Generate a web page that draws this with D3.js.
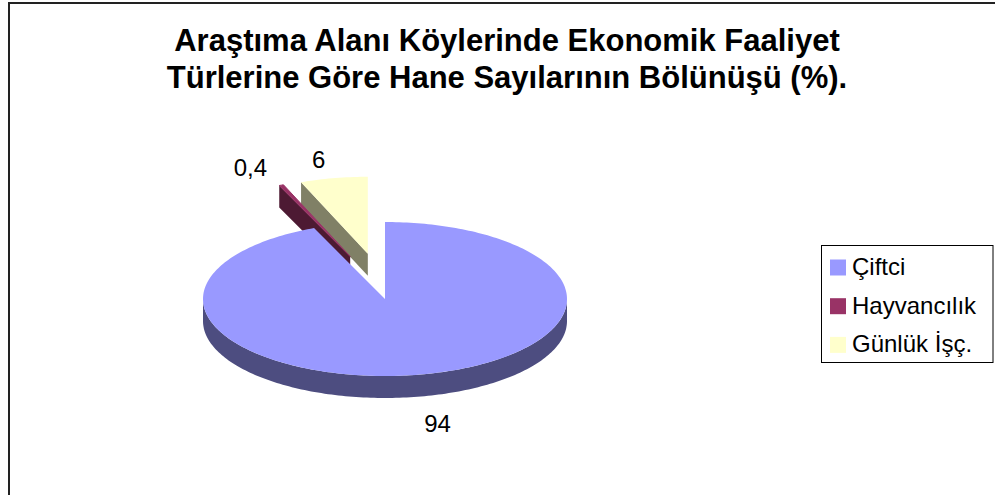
<!DOCTYPE html>
<html>
<head>
<meta charset="utf-8">
<script src="https://cdn.jsdelivr.net/npm/d3@7"></script>
<style>
  html, body { margin: 0; padding: 0; background: #fff; }
  svg { display: block; }
  text { font-family: "Liberation Sans", Arial, sans-serif; }
</style>
</head>
<body>
<svg id="chart" width="995" height="495"></svg>
<script>
// ---- data ----
const titleLines = ["Araştıma Alanı Köylerinde Ekonomik Faaliyet", "Türlerine Göre Hane Sayılarının Bölünüşü (%)."];
const categories = ["Çiftci", "Hayvancılık", "Günlük İşç."];
const values = [94, 0.4, 6];
const valueLabels = ["94", "0,4", "6"];
const exploded = [false, true, true];

// ---- styles ----
const topColors = ["#9999FF", "#993366", "#FFFFCC"];
const sideColors = ["#4D4D80", "#4D1A33", "#808066"];

const W = 995, H = 495;
const cx = 385, cy = 299, rx = 182, ry = 77, depth = 22;
const explodeDist = 92, explodeYScale = 0.5;

const svg = d3.select("#chart");

// outer frame (right & bottom edges fall outside the picture)
svg.append("rect").attr("x", 9).attr("y", 3).attr("width", 1000).attr("height", 600)
  .attr("fill", "#fff").attr("stroke", "#222").attr("stroke-width", 2);

// title
svg.append("g").selectAll("text").data(titleLines).join("text")
  .attr("x", 507).attr("y", (d, i) => 51 + i * 37)
  .attr("text-anchor", "middle").attr("font-weight", "bold").attr("font-size", 31)
  .attr("fill", "#000").text(d => d);

const pie = d3.pie().sort(null).startAngle(0).endAngle(2 * Math.PI);
const arcs = pie(values).map((a, i) => {
  const mid = (a.startAngle + a.endAngle) / 2;
  const d = exploded[i] ? explodeDist : 0;
  return {
    ...a, i, mid,
    ax: cx + d * Math.sin(mid),
    ay: cy - d * Math.cos(mid) * explodeYScale
  };
});

const line = d3.line();
const pt = (a, t, k = 1, dz = 0) => [a.ax + rx * k * Math.sin(t), a.ay - ry * k * Math.cos(t) + dz];
const samples = (t0, t1) => {
  const n = Math.max(2, Math.ceil(Math.abs(t1 - t0) / 0.02));
  return d3.range(n + 1).map(j => t0 + (t1 - t0) * j / n);
};

const g = svg.append("g");
const order = arcs.slice().sort((a, b) => a.ay - b.ay);

order.forEach(a => {
  const sg = g.append("g");
  // radial faces
  const faces = [];
  if (Math.sin(a.startAngle) < -1e-6) faces.push(a.startAngle);
  if (Math.sin(a.endAngle) > 1e-6) faces.push(a.endAngle);
  faces.forEach(t => {
    const p = [[a.ax, a.ay], pt(a, t), pt(a, t, 1, depth), [a.ax, a.ay + depth]];
    sg.append("path").attr("d", line(p) + "Z").attr("fill", sideColors[a.i]);
  });
  // outer wall (front-facing part)
  const w0 = Math.max(a.startAngle, Math.PI / 2), w1 = Math.min(a.endAngle, 3 * Math.PI / 2);
  if (w1 > w0) {
    const ts = samples(w0, w1);
    const p = ts.map(t => pt(a, t)).concat(ts.slice().reverse().map(t => pt(a, t, 1, depth)));
    sg.append("path").attr("d", line(p) + "Z").attr("fill", sideColors[a.i]);
  }
  // top face
  const tp = [[a.ax, a.ay]].concat(samples(a.startAngle, a.endAngle).map(t => pt(a, t)));
  sg.append("path").attr("d", line(tp) + "Z").attr("fill", topColors[a.i])
    .attr("stroke", a.i === 1 ? topColors[a.i] : "none").attr("stroke-width", 1);
});

// data labels
svg.append("g").selectAll("text").data(arcs).join("text")
  .attr("x", a => a.ax + rx * 1.45 * Math.sin(a.mid))
  .attr("y", a => a.ay - ry * 1.25 * Math.cos(a.mid) + (Math.cos(a.mid) < 0 ? depth + 8 : 0))
  .attr("dy", "0.36em").attr("text-anchor", "middle").attr("font-size", 24).attr("fill", "#000")
  .text(a => valueLabels[a.i]);

// legend
const lg = svg.append("g");
lg.append("rect").attr("x", 821.5).attr("y", 245.5).attr("width", 171.5).attr("height", 117)
  .attr("fill", "#fff").attr("stroke", "#000").attr("stroke-width", 1);
const items = lg.selectAll("g.item").data(categories).join("g").attr("class", "item")
  .attr("transform", (d, i) => `translate(830, ${275 + i * 38.7})`);
items.append("rect").attr("x", 0).attr("y", -15.5).attr("width", 16).attr("height", 16)
  .attr("fill", (d, i) => topColors[i]);
items.append("text").attr("x", 22).attr("y", 0).attr("font-size", 24).attr("fill", "#000").text(d => d);
</script>
</body>
</html>
